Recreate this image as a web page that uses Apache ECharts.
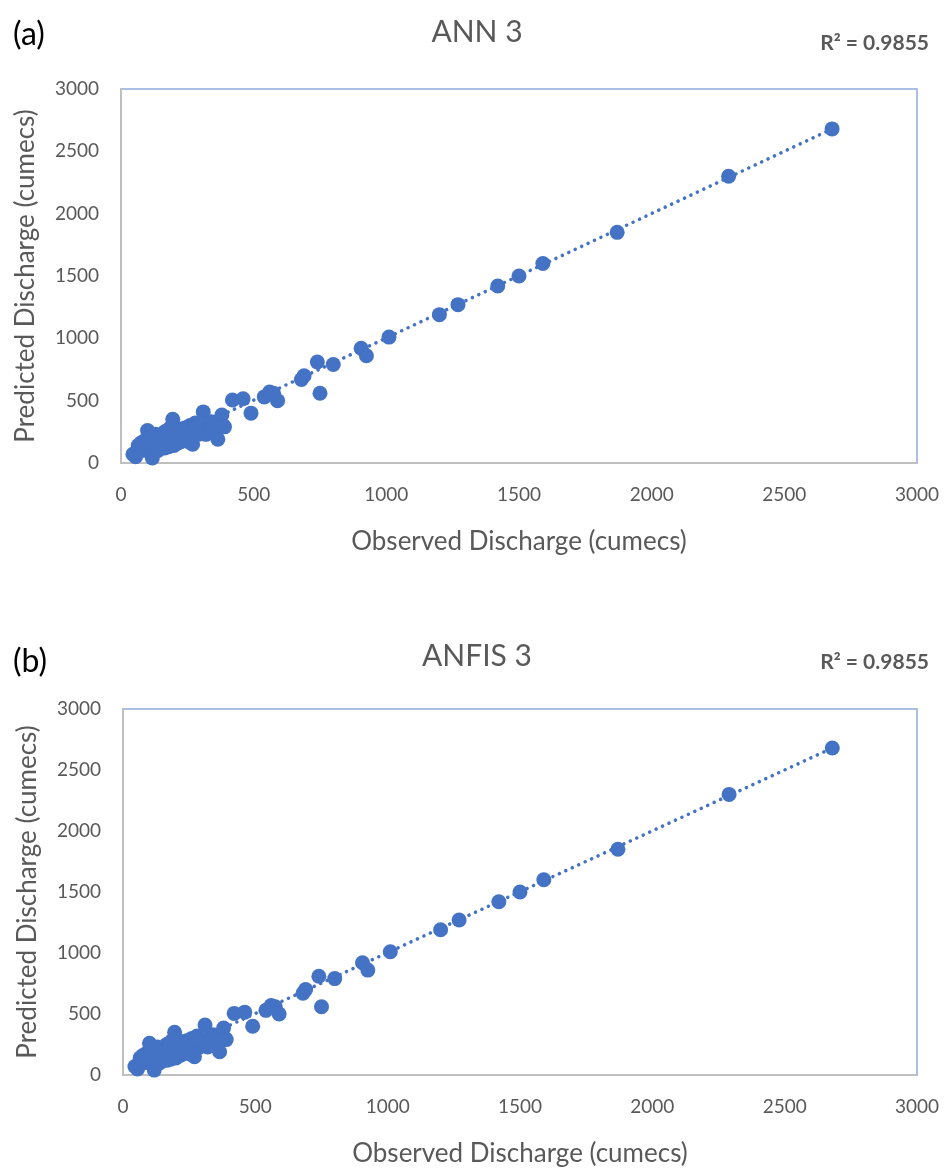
<!DOCTYPE html>
<html>
<head>
<meta charset="utf-8">
<script src="https://cdn.jsdelivr.net/npm/echarts@6/dist/echarts.min.js"></script>
<style>
html,body{margin:0;padding:0;background:#fff;}
#c{width:946px;height:1168px;}
</style>
</head>
<body>
<div id="c"></div>
<script>
// ---- data ----
const observed = [45,55,60,70,75,80,85,90,95,100,105,110,115,118,120,125,130,135,140,145,150,155,160,165,170,175,180,185,190,195,200,205,210,215,220,225,230,240,245,250,255,260,265,270,275,280,290,300,310,320,330,340,350,360,365,380,385,390,
  420,460,490,540,560,575,590,680,690,740,750,800,905,925,1010,1200,1270,1420,1500,1590,1870,2290,2680];
const annPredicted = [70,50,90,120,160,100,140,180,160,260,200,130,90,40,150,110,180,200,160,120,220,190,140,250,170,210,130,280,230,350,300,180,250,160,270,210,190,280,230,200,170,300,250,150,260,320,230,280,410,300,260,330,250,310,190,385,300,290,
  505,515,400,530,570,560,500,670,700,810,560,790,920,860,1010,1190,1270,1420,1500,1600,1850,2300,2680];
const anfisPredicted = annPredicted.slice();
const extraObserved = [65,100,130,150,175,190,210,235,260,285,320,345,140,165,200,225,250];
const extraPredicted = [140,170,230,180,260,160,200,240,220,290,230,290,100,120,140,170,180];
const trendObserved = [40, 2680];
const trendPredicted = [45, 2680];
const xTicks = [0,500,1000,1500,2000,2500,3000];
const yTicks = [0,500,1000,1500,2000,2500,3000];
const panelLabels = ['(a)','(b)'];
const panelTitles = ['ANN 3','ANFIS 3'];
const r2Labels = ['R² = 0.9855','R² = 0.9855'];

const BLUE = '#4472C4';
const GREY = '#595959';
const FONT = 'Lato, "Liberation Sans", sans-serif';

function pairs(xs, ys){ return xs.map((x,i)=>[x, ys[i]]); }

const grids = [
  {left:121, right:29, top:89, height:374},
  {left:123, right:29, top:709, height:372}
];
const labelTops = [14, 641];
const titleTops = [12, 636];
const r2Tops = [28, 647];

const option = {
  backgroundColor:'#fff',
  animation:false,
  title: [],
  grid: grids.map(g=>Object.assign({show:true, borderColor:'#8FAADC', borderWidth:1.5, backgroundColor:'transparent'}, g)),
  xAxis: [], yAxis: [], series: []
};

[0,1].forEach(i=>{
  option.title.push({text: panelLabels[i], left: 8, top: labelTops[i], textStyle:{fontFamily:FONT, fontSize:32, fontWeight:'normal', color:'#000'}});
  option.title.push({text: panelTitles[i], left: 472, textAlign:'center', top: titleTops[i], textStyle:{fontFamily:FONT, fontSize:30, fontWeight:'normal', color:GREY}});
  option.title.push({text: r2Labels[i], right: 12, top: r2Tops[i], textStyle:{fontFamily:FONT, fontSize:21, fontWeight:'bold', color:GREY}});
  option.xAxis.push({
    type:'value', gridIndex:i, min:xTicks[0], max:xTicks[xTicks.length-1], interval:xTicks[1]-xTicks[0],
    name:'Observed Discharge (cumecs)', nameLocation:'middle', nameGap:66,
    nameTextStyle:{fontFamily:FONT, fontSize:26, color:GREY},
    axisLine:{show:true, onZero:false, lineStyle:{color:'#BFBFBF', width:2}},
    axisTick:{show:false}, splitLine:{show:false},
    axisLabel:{fontFamily:FONT, fontSize:19, color:GREY, margin:22, formatter:v=>String(v)}
  });
  option.yAxis.push({
    type:'value', gridIndex:i, min:yTicks[0], max:yTicks[yTicks.length-1], interval:yTicks[1]-yTicks[0],
    name:'Predicted Discharge (cumecs)', nameLocation:'middle', nameGap:82,
    nameTextStyle:{fontFamily:FONT, fontSize:26, color:GREY},
    axisLine:{show:true, onZero:false, lineStyle:{color:'#BFBFBF', width:2}},
    axisTick:{show:false}, splitLine:{show:false},
    axisLabel:{fontFamily:FONT, fontSize:19, color:GREY, margin:22, formatter:v=>String(v)}
  });
  option.series.push({
    type:'line', xAxisIndex:i, yAxisIndex:i, data: pairs(trendObserved, trendPredicted),
    symbol:'none', z:3,
    lineStyle:{color:BLUE, width:3.5, type:[0.1,7], cap:'round'}
  });
  option.series.push({
    type:'scatter', xAxisIndex:i, yAxisIndex:i,
    data: pairs(observed, i===0 ? annPredicted : anfisPredicted).concat(pairs(extraObserved, extraPredicted)),
    symbol:'circle', symbolSize:15, z:4,
    itemStyle:{color:BLUE, opacity:1}
  });
});

const chart = echarts.init(document.getElementById('c'), null, {renderer:'canvas'});
chart.setOption(option);
</script>
</body>
</html>
